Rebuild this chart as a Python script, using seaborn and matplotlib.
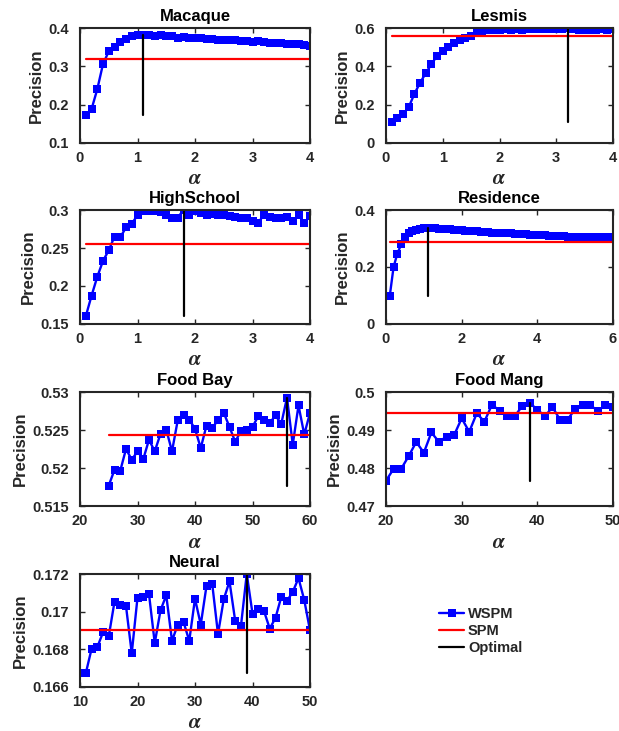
import numpy as np
import pandas as pd
import matplotlib
matplotlib.use("Agg")
import matplotlib.pyplot as plt
import seaborn as sns
from matplotlib.lines import Line2D
from matplotlib.ticker import FuncFormatter

sns.set_style("ticks")
plt.rcParams['font.family'] = ['Liberation Sans', 'DejaVu Sans']
plt.rcParams['font.weight'] = 'bold'
plt.rcParams['mathtext.fontset'] = 'stix'

# ---------------- data ----------------
alpha_4 = [0.1, 0.2, 0.3, 0.4, 0.5, 0.6, 0.7, 0.8, 0.9, 1.0,
           1.1, 1.2, 1.3, 1.4, 1.5, 1.6, 1.7, 1.8, 1.9, 2.0,
           2.1, 2.2, 2.3, 2.4, 2.5, 2.6, 2.7, 2.8, 2.9, 3.0,
           3.1, 3.2, 3.3, 3.4, 3.5, 3.6, 3.7, 3.8, 3.9, 4.0]
alpha_6 = alpha_4 + [4.1, 4.2, 4.3, 4.4, 4.5, 4.6, 4.7, 4.8, 4.9, 5.0,
                     5.1, 5.2, 5.3, 5.4, 5.5, 5.6, 5.7, 5.8, 5.9, 6.0]
alpha_foodbay = list(range(25, 61))
alpha_foodmang = list(range(20, 51))
alpha_neural = list(range(10, 51))

macaque_wspm = [0.172, 0.188, 0.240, 0.306, 0.339, 0.351, 0.364, 0.372, 0.378, 0.381,
                0.383, 0.381, 0.380, 0.381, 0.380, 0.378, 0.375, 0.376, 0.375, 0.375,
                0.374, 0.372, 0.372, 0.370, 0.370, 0.369, 0.369, 0.367, 0.365, 0.364,
                0.365, 0.363, 0.362, 0.360, 0.361, 0.358, 0.357, 0.357, 0.355, 0.352]
lesmis_wspm = [0.111, 0.129, 0.150, 0.187, 0.256, 0.314, 0.364, 0.411, 0.455, 0.482,
               0.499, 0.521, 0.535, 0.547, 0.558, 0.574, 0.584, 0.587, 0.590, 0.592,
               0.593, 0.591, 0.594, 0.592, 0.595, 0.596, 0.594, 0.593, 0.595, 0.594,
               0.596, 0.598, 0.593, 0.591, 0.588, 0.592, 0.590, 0.593, 0.589, 0.594]
highschool_wspm = [0.160, 0.187, 0.212, 0.233, 0.247, 0.265, 0.264, 0.277, 0.282, 0.293,
                   0.299, 0.299, 0.299, 0.298, 0.294, 0.290, 0.290, 0.300, 0.294, 0.299,
                   0.296, 0.294, 0.295, 0.293, 0.294, 0.292, 0.291, 0.290, 0.289, 0.285,
                   0.283, 0.294, 0.291, 0.289, 0.289, 0.291, 0.285, 0.293, 0.283, 0.292]
residence_wspm = [0.099, 0.200, 0.247, 0.279, 0.305, 0.318, 0.326, 0.331, 0.335, 0.337,
                  0.338, 0.337, 0.336, 0.335, 0.334, 0.333, 0.332, 0.331, 0.330, 0.329,
                  0.328, 0.327, 0.326, 0.325, 0.324, 0.322, 0.323, 0.321, 0.320, 0.319,
                  0.319, 0.318, 0.318, 0.317, 0.317, 0.316, 0.315, 0.314, 0.313, 0.312,
                  0.312, 0.311, 0.310, 0.310, 0.309, 0.308, 0.308, 0.307, 0.307, 0.306,
                  0.306, 0.306, 0.305, 0.306, 0.305, 0.306, 0.305, 0.306, 0.305, 0.306]
foodbay_wspm = [0.51769, 0.51976, 0.51963, 0.52250, 0.52109, 0.52219, 0.52116, 0.52372,
                0.52219, 0.52449, 0.52506, 0.52219, 0.52629, 0.52696, 0.52638, 0.52515,
                0.52263, 0.52559, 0.52528, 0.52629, 0.52726, 0.52541, 0.52343, 0.52493,
                0.52497, 0.52541, 0.52682, 0.52629, 0.52594, 0.52691, 0.52581, 0.52925,
                0.52307, 0.52824, 0.52441, 0.52726]
foodmang_wspm = [0.47666, 0.47976, 0.47976, 0.48314, 0.48686, 0.48402, 0.48935, 0.48686,
                 0.48828, 0.48864, 0.49308, 0.48953, 0.49441, 0.49219, 0.49663, 0.49512,
                 0.49361, 0.49361, 0.49627, 0.49707, 0.49538, 0.49361, 0.49601, 0.49272,
                 0.49272, 0.49556, 0.49663, 0.49645, 0.49512, 0.49645, 0.49601]
neural_wspm = [0.16672, 0.16672, 0.16801, 0.16811, 0.16890, 0.16869, 0.17053, 0.17034,
               0.17030, 0.16779, 0.17075, 0.17080, 0.17093, 0.16833, 0.17007, 0.17087,
               0.16845, 0.16931, 0.16946, 0.16845, 0.17069, 0.16931, 0.17137, 0.17146,
               0.16881, 0.17066, 0.17161, 0.16949, 0.16926, 0.17200, 0.16990, 0.17016,
               0.17003, 0.16910, 0.16967, 0.17078, 0.17057, 0.17105, 0.17178, 0.17062,
               0.16901]

titles = ["Macaque", "Lesmis", "HighSchool", "Residence", "Food Bay", "Food Mang", "Neural"]
spm_values = [0.318, 0.556, 0.255, 0.289, 0.5244, 0.4945, 0.1690]
optimal_alpha = [1.1, 3.2, 1.8, 1.1, 56, 39, 39]
x_series = [alpha_4, alpha_4, alpha_4, alpha_6, alpha_foodbay, alpha_foodmang, alpha_neural]
y_series = [macaque_wspm, lesmis_wspm, highschool_wspm, residence_wspm,
            foodbay_wspm, foodmang_wspm, neural_wspm]
x_limits = [(0, 4), (0, 4), (0, 4), (0, 6), (20, 60), (20, 50), (10, 50)]
y_limits = [(0.1, 0.4), (0, 0.6), (0.15, 0.3), (0, 0.4), (0.515, 0.53), (0.47, 0.5), (0.166, 0.172)]
x_ticks = [[0, 1, 2, 3, 4], [0, 1, 2, 3, 4], [0, 1, 2, 3, 4], [0, 2, 4, 6],
           [20, 30, 40, 50, 60], [20, 30, 40, 50], [10, 20, 30, 40, 50]]
y_ticks = [[0.1, 0.2, 0.3, 0.4], [0, 0.2, 0.4, 0.6], [0.15, 0.2, 0.25, 0.3], [0, 0.2, 0.4],
           [0.515, 0.52, 0.525, 0.53], [0.47, 0.48, 0.49, 0.5], [0.166, 0.168, 0.17, 0.172]]
legend_labels = ["WSPM", "SPM", "Optimal"]

# ---------------- layout ----------------
W, H = 619, 731
fig = plt.figure(figsize=(W / 100, H / 100), dpi=100)

col_px = [(80, 310), (386, 613)]
row_px = [(28, 143), (210, 324), (392, 506), (574, 687)]

axc = '#262626'
BLUE = '#0000FF'
RED = '#FF0000'

for i in range(7):
    r, c = divmod(i, 2)
    x0, x1 = col_px[c]
    y0, y1 = row_px[r]
    ax = fig.add_axes([x0 / W, 1 - y1 / H, (x1 - x0) / W, (y1 - y0) / H])
    df = pd.DataFrame({"alpha": x_series[i], "precision": y_series[i]})
    sns.lineplot(data=df, x="alpha", y="precision", ax=ax, color=BLUE, lw=1.7,
                 marker='s', markersize=5.2, markeredgewidth=0, markerfacecolor=BLUE,
                 estimator=None, sort=False)
    xs = x_series[i]
    spm_df = pd.DataFrame({"alpha": [xs[0], xs[-1]], "precision": [spm_values[i]] * 2})
    sns.lineplot(data=spm_df, x="alpha", y="precision", ax=ax, color=RED, lw=1.6,
                 estimator=None)
    opt_df = pd.DataFrame({"alpha": [optimal_alpha[i]] * 2,
                           "precision": [min(y_series[i]), max(y_series[i])]})
    sns.lineplot(data=opt_df, x="alpha", y="precision", ax=ax, color='black', lw=1.6,
                 estimator=None, sort=False, orient='y')

    ax.set_xlim(*x_limits[i])
    ax.set_ylim(*y_limits[i])
    ax.set_xticks(x_ticks[i])
    ax.set_yticks(y_ticks[i])
    ax.yaxis.set_major_formatter(FuncFormatter(lambda v, p: f"{v:g}"))
    ax.xaxis.set_major_formatter(FuncFormatter(lambda v, p: f"{v:g}"))
    ax.tick_params(direction='in', length=3.5, width=1.0, top=True, right=True,
                   labelsize=10.5, colors=axc)
    ax.tick_params(axis='y', pad=8)
    ax.tick_params(axis='x', pad=6)
    for lab in ax.get_xticklabels() + ax.get_yticklabels():
        lab.set_fontweight('bold')
    for sp in ax.spines.values():
        sp.set_color(axc)
        sp.set_linewidth(1.5)
    ax.set_title(titles[i], fontsize=12, fontweight='bold', pad=5, color='black')
    ax.set_ylabel("Precision", fontsize=12, fontweight='bold', color=axc, labelpad=3)
    ax.set_xlabel(r"$\alpha$", fontsize=15, color=axc, labelpad=3)

handles = [Line2D([], [], color=BLUE, lw=1.7, marker='s', markersize=5.2, markeredgewidth=0),
           Line2D([], [], color=RED, lw=1.6),
           Line2D([], [], color='black', lw=1.6)]
fig.legend(handles, legend_labels, loc='upper left',
           bbox_to_anchor=(436 / W, 1 - 604 / H), frameon=False,
           prop={'weight': 'bold', 'size': 10.5}, handlelength=1.75,
           handletextpad=0.25, labelspacing=0.22, borderaxespad=0, borderpad=0.2)

fig.savefig("out.png", dpi=100)
